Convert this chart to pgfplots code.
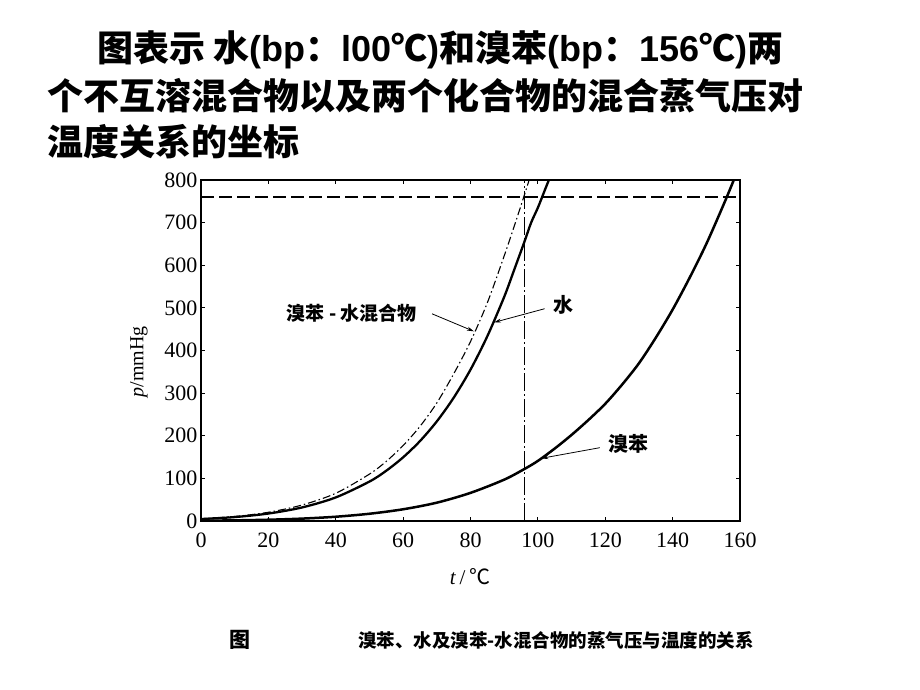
\documentclass[border=0pt]{standalone}
\usepackage{fontspec}
\usepackage{pgfplots}
\pgfplotsset{compat=1.18}
\usetikzlibrary{arrows.meta}
\setmainfont{Liberation Serif}
\newfontfamily\cjk{Noto Sans CJK SC}
\newfontfamily\lat{Liberation Sans}
\pgfplotstableread{
t p
0 4.6
10 9.2
20 17.5
30 31.8
40 55.3
50 92.5
55 118
60 149.4
65 187.5
70 233.7
75 289.1
80 355.1
85 433.6
90 525.8
93 590
96 655
98 700
100 735
102 775
104 815
106 860
}\water
\pgfplotstableread{
t p
0 5.3
10 10.6
20 20.5
30 37.5
40 65
50 110
55 140
60 177
65 222
70 277
75 345
80 421
85 512
90 622
93 692
96 765
98 815
}\mixture
\pgfplotstableread{
t p
0 0.7
10 1.5
20 3
30 5.6
40 10
50 17
60 27.5
70 43
80 66
90 97
96 122
100 141
105 170
110 202
115 237
120 275
125 320
130 370
135 430
140 496
145 570
150 650
155 740
158 797
160 838
}\bromo
\begin{document}
\begin{tikzpicture}[x=1pt,y=1pt]
\useasboundingbox (0,0) rectangle (920,690);
\fill[white] (0,0) rectangle (920,690);
% title
\node[anchor=west,inner sep=0,font=\cjk\bfseries\fontsize{36}{40}\selectfont] at (97,640) {图表示 水{\lat\bfseries(bp}：{\lat\bfseries l00}℃{\lat\bfseries)}和溴苯{\lat\bfseries(bp}：{\lat\bfseries 156}℃{\lat\bfseries)}两};
\node[anchor=west,inner sep=0,font=\cjk\bfseries\fontsize{36}{40}\selectfont] at (47,594) {个不互溶混合物以及两个化合物的混合蒸气压对};
\node[anchor=west,inner sep=0,font=\cjk\bfseries\fontsize{36}{40}\selectfont] at (47,548) {温度关系的坐标};
\begin{axis}[
  at={(201pt,169pt)}, anchor=south west,
  scale only axis, width=539pt, height=341pt,
  xmin=0, xmax=160, ymin=0, ymax=800,
  xtick={0,20,...,160}, ytick={0,100,...,800},
  tick align=inside, major tick length=4pt,
  axis line style={line width=1.3pt},
  tick style={line width=0.8pt,black},
  /pgf/number format/assume math mode=true,
  tick label style={font=\fontsize{22}{22}\selectfont},
  xticklabel style={yshift=-8pt},
  clip=true,
]
\addplot[black,line width=2.3pt,smooth] table[x=t,y=p] {\water};
\addplot[black,line width=1.1pt,smooth,dash pattern=on 8pt off 3pt on 1.5pt off 3pt] table[x=t,y=p] {\mixture};
\addplot[black,line width=2.5pt,smooth] table[x=t,y=p] {\bromo};
\addplot[black,line width=1.6pt,dash pattern=on 13pt off 5pt] coordinates {(0,760) (160,760)};
\addplot[black,line width=1.6pt,dash pattern=on 18pt off 3pt on 2pt off 3pt] coordinates {(96,0) (96,800)};
\node[font=\cjk\bfseries\fontsize{19}{20}\selectfont] at (axis cs:44.8,488) {溴苯 - 水混合物};
\draw[-{Stealth[length=7pt,width=4pt]},line width=0.8pt] (axis cs:68.6,486) -- (axis cs:81,445);
\node[font=\cjk\bfseries\fontsize{20}{20}\selectfont] at (axis cs:107.5,507) {水};
\draw[-{Stealth[length=7pt,width=4pt]},line width=0.8pt] (axis cs:102,498) -- (axis cs:87,466);
\node[font=\cjk\bfseries\fontsize{20}{20}\selectfont] at (axis cs:126.8,181) {溴苯};
\draw[-{Stealth[length=7pt,width=4pt]},line width=0.8pt] (axis cs:118.4,172) -- (axis cs:101,147);
\end{axis}
\node[rotate=90,font=\fontsize{20}{20}\selectfont] at (139,328) {\textit{p}/mmHg};
\node[font=\fontsize{21}{21}\selectfont] at (470,113) {\textit{t}\,/\,{\cjk ℃}};
% caption
\node[font=\cjk\bfseries\fontsize{21}{21}\selectfont] at (240,50) {图};
\node[anchor=west,inner sep=0,font=\cjk\bfseries\fontsize{18.5}{19}\selectfont] at (358,50) {溴苯、水及溴苯-水混合物的蒸气压与温度的关系};
\end{tikzpicture}
\end{document}
